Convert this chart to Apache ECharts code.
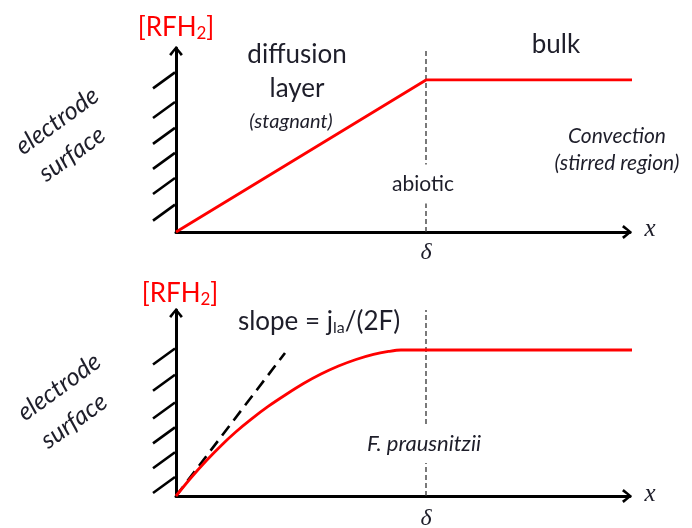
<!DOCTYPE html>
<html><head><meta charset="utf-8">
<script src="https://cdn.jsdelivr.net/npm/echarts@6/dist/echarts.min.js"></script>
<style>html,body{margin:0;padding:0;background:#fff}#c{width:692px;height:528px}</style>
</head><body><div id="c"></div>
<script>
// Top panel (abiotic): linear profile to delta, then bulk
const topX = [0, 1, 1.98];
const topY = [0, 1, 1];
// Bottom panel (F. prausnitzii): curved profile
const botX = [0, 0.06, 0.12, 0.18, 0.24, 0.30, 0.37, 0.44, 0.51, 0.58, 0.65, 0.72, 0.79, 0.85, 0.9, 1.0, 1.98];
const botY = [0, 0.125, 0.24, 0.345, 0.44, 0.525, 0.615, 0.695, 0.77, 0.835, 0.89, 0.935, 0.97, 0.99, 1.0, 1.0, 1.0];
// initial slope tangent
const tangentX = [0, 0.436];
const tangentY = [0, 0.98];
// diffusion layer thickness
const deltaPos = 1;
// electrode hatch positions (y in concentration units)
const hatchTop = [0.18, 0.355, 0.52, 0.685, 0.855, 1.05];
const hatchBot = [0.13, 0.30, 0.47, 0.64, 0.83, 1.01];
// axis extents
const xMax = 1.816, yMaxTop = 1.21, yMaxBot = 1.274;

const zip = (a, b) => a.map((v, i) => [v, b[i]]);
const chevron = 'path://M0,12 L10,0 L20,12 L17,14.5 L10,5 L3,14.5 Z';
const TXT = '#1e1e2a';
const RED = '#ff0000';
const FONT = 'Lato';

function axis(max) {
  return {
    type: 'value', min: 0, max: max,
    axisLine: { show: true, symbol: ['none', chevron], symbolSize: [14, 10], symbolOffset: [0, -3],
      lineStyle: { color: '#000', width: 3 } },
    axisTick: { show: false }, axisLabel: { show: false }, splitLine: { show: false }
  };
}
function hatch(idx, arr) {
  return {
    type: 'custom', xAxisIndex: idx, yAxisIndex: idx, clip: false, silent: true,
    data: arr.map(v => [0, v]),
    renderItem: (params, api) => {
      const p = api.coord([api.value(0), api.value(1)]);
      return { type: 'line', shape: { x1: p[0] - 23, y1: p[1] + 16, x2: p[0] - 1, y2: p[1] },
        style: { stroke: '#000', lineWidth: 2.6 } };
    }
  };
}
function vline(idx, ymax) {
  return { type: 'line', xAxisIndex: idx, yAxisIndex: idx, data: [[deltaPos, 0], [deltaPos, ymax]],
    symbol: 'none', clip: false, z: 1,
    lineStyle: { color: '#333', width: 1.3, type: [5, 3] } };
}
function t(text, x, y, size, opts) {
  opts = opts || {};
  return {
    type: 'text', x: x, y: y, z: 100, rotation: opts.rot || 0,
    style: {
      text: text, fill: opts.fill || TXT,
      font: (opts.italic ? 'italic ' : '') + size + 'px ' + (opts.family || FONT),
      align: 'center', verticalAlign: 'middle',
      backgroundColor: opts.bg, padding: opts.pad, rich: opts.rich
    }
  };
}
function rfh(x, y) {
  return t('{a|[RFH}{s|2}{a|]}', x, y, 26, { fill: RED, rich: {
    a: { fontFamily: FONT, fontSize: 26, lineHeight: 28, fill: RED },
    s: { fontFamily: FONT, fontSize: 17, lineHeight: 8, verticalAlign: 'bottom', fill: RED }
  }});
}
const rot = 36 * Math.PI / 180;

const option = {
  animation: false,
  backgroundColor: '#fff',
  grid: [
    { left: 176, top: 48, width: 454, height: 184 },
    { left: 176, top: 310, width: 454, height: 186 }
  ],
  xAxis: [Object.assign(axis(xMax), { gridIndex: 0 }), Object.assign(axis(xMax), { gridIndex: 1 })],
  yAxis: [Object.assign(axis(yMaxTop), { gridIndex: 0 }), Object.assign(axis(yMaxBot), { gridIndex: 1 })],
  series: [
    vline(0, yMaxTop),
    vline(1, yMaxBot),
    hatch(0, hatchTop),
    hatch(1, hatchBot),
    { type: 'line', xAxisIndex: 0, yAxisIndex: 0, data: zip(topX, topY), symbol: 'none', clip: false, z: 5,
      lineStyle: { color: RED, width: 2.8 } },
    { type: 'line', xAxisIndex: 1, yAxisIndex: 1, data: zip(tangentX, tangentY), symbol: 'none', clip: false, z: 4,
      lineStyle: { color: '#000', width: 2.6, type: [12, 7] } },
    { type: 'line', xAxisIndex: 1, yAxisIndex: 1, data: zip(botX, botY), symbol: 'none', clip: false, z: 5,
      smooth: 0.3,
      lineStyle: { color: RED, width: 2.8 } }
  ],
  graphic: [
    rfh(176, 28),
    t('diffusion', 297, 55, 26),
    t('layer', 297, 89, 26),
    t('(stagnant)', 291, 122, 20, { italic: true }),
    t('bulk', 556, 45, 26),
    t('Convection', 617, 136, 21, { italic: true }),
    t('(stirred region)', 617, 163, 21, { italic: true }),
    t('abiotic', 423, 184, 21, { bg: '#fff', pad: [9, 2] }),
    t('x', 650, 229, 25, { italic: true, family: '"Liberation Serif"' }),
    t('δ', 426, 253, 24, { italic: true, family: '"Liberation Serif"' }),
    t('electrode', 57, 121, 25, { italic: true, rot: rot }),
    t('surface', 72, 154, 25, { italic: true, rot: rot }),

    rfh(180, 294),
    t('{a|slope = j}{s|la}{a|/(2F)}', 319, 322, 26, { rich: {
      a: { fontFamily: FONT, fontSize: 26, lineHeight: 28, fill: TXT },
      s: { fontFamily: FONT, fontSize: 16, lineHeight: 8, verticalAlign: 'bottom', fill: TXT }
    }}),
    t('F. prausnitzii', 424, 444, 22, { italic: true, bg: '#fff', pad: [8, 2] }),
    t('x', 650, 494, 25, { italic: true, family: '"Liberation Serif"' }),
    t('δ', 426, 519, 24, { italic: true, family: '"Liberation Serif"' }),
    t('electrode', 59, 387, 25, { italic: true, rot: rot }),
    t('surface', 74, 421, 25, { italic: true, rot: rot })
  ]
};
const chart = echarts.init(document.getElementById('c'), null, { renderer: 'canvas' });
chart.setOption(option);
</script>
</body></html>
